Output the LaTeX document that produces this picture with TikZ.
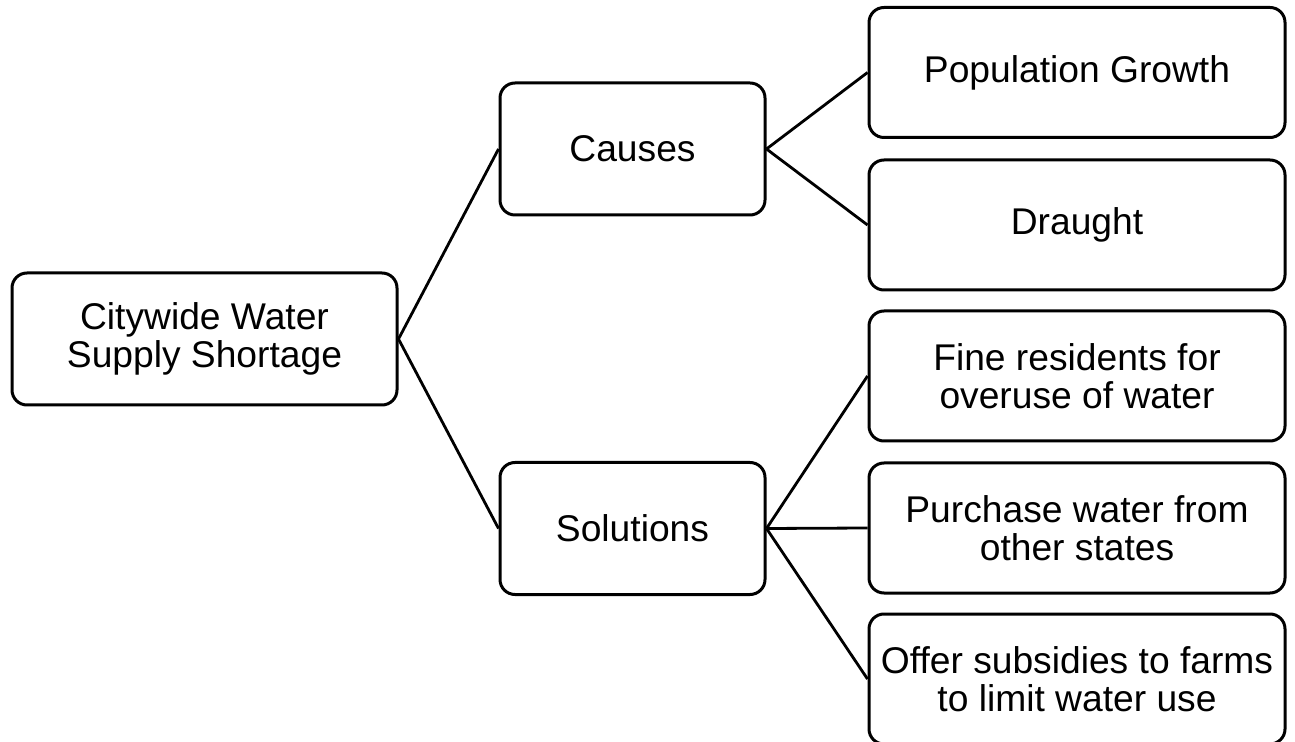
\documentclass[tikz,border=0pt]{standalone}
\usepackage{fontspec}
\setmainfont{Liberation Sans}
\usepackage{tikz}
\usetikzlibrary{positioning}
\usetikzlibrary{calc}

\begin{document}
\begin{tikzpicture}[x=0.5pt, y=-0.5pt]
% tikz settings
\fontsize{18.6}{19}\selectfont
\tikzstyle{box} = [rectangle, draw, line width=1.5pt, rounded corners=7.5pt,
    align=center, inner sep=0pt, minimum height=66pt]
\tikzstyle{rootbox} = [box, minimum width=192.5pt]
\tikzstyle{midbox} = [box, minimum width=132.5pt]
\tikzstyle{leafbox} = [box, minimum width=208pt, minimum height=65pt]
\tikzstyle{line} = [draw, line width=1.4pt]

\useasboundingbox (0,0) rectangle (1295,742);

% the tikz picture
\node [rootbox] (shortage) at (204.5,339) {Citywide Water\\Supply Shortage};
\node [midbox] (causes) at (632.5,149) {Causes};
\node [midbox] (solutions) at (632.5,528.5) {Solutions};

\node [leafbox] (population) at (1077,72.5) {Population Growth};
\node [leafbox] (draught) at (1077,225) {Draught};
\node [leafbox] (fine) at (1077,376) {Fine residents for\\overuse of water};
\node [leafbox] (purchase) at (1077,528) {Purchase water from\\other states};
\node [leafbox] (subsidies) at (1077,679) {Offer subsidies to farms\\to limit water use};

% connectors
\path [line] (shortage.east) -- (causes.west);
\path [line] (shortage.east) -- (solutions.west);
\path [line] (causes.east) -- (population.west);
\path [line] (causes.east) -- (draught.west);
\path [line] (solutions.east) -- (fine.west);
\path [line] (solutions.east) -- (purchase.west);
\path [line] (solutions.east) -- (subsidies.west);
\end{tikzpicture}
\end{document}
